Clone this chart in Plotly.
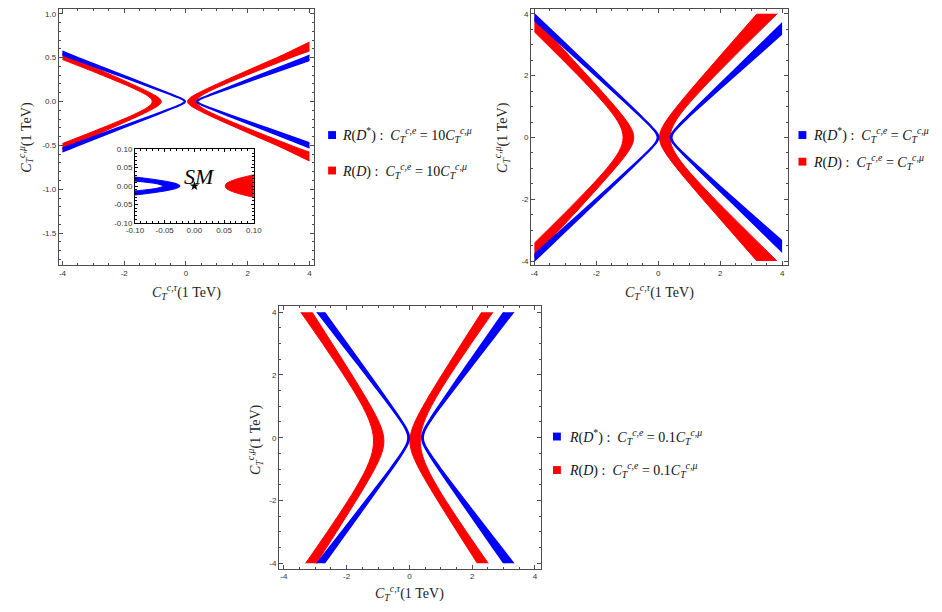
import plotly.graph_objects as go

W, H = 942, 612
BLUE = "#0000ff"
RED = "#ff0000"
FRAME = "#4d4d4d"
SERIF = "Liberation Serif, DejaVu Serif, serif"
TICKFONT = dict(family="Liberation Sans, Arial, sans-serif", size=8, color="#333333")

# ---------------------------------------------------------------------------
# Allowed bands in the (C_T^{c,tau}, C_T^{c,mu}) plane.
# Each band edge is given as x positions at the listed |y| levels
# ("in" = edge nearer the centre of the pair, "out" = edge farther away).
# ---------------------------------------------------------------------------

# Panel 1 : C_T^{c,e} = 10 C_T^{c,mu}   (symmetric in y)
P1_Y = [0, 0.012, 0.025, 0.045, 0.08, 0.15, 0.3, 0.5, 0.8]
P1_DSTAR_LEFT_IN = [-0.024, -0.044, -0.099, -0.215, -0.451, -0.949, -2.037, -3.496, -5.686]
P1_DSTAR_LEFT_OUT = [-0.053, -0.073, -0.129, -0.251, -0.501, -1.033, -2.200, -3.764, -6.115]
P1_DSTAR_RIGHT_IN = [0.350, 0.370, 0.425, 0.541, 0.777, 1.275, 2.363, 3.822, 6.012]
P1_DSTAR_RIGHT_OUT = [0.379, 0.400, 0.460, 0.588, 0.849, 1.402, 2.614, 4.237, 6.676]
P1_D_LEFT_IN = [-0.801, -0.808, -0.832, -0.894, -1.052, -1.449, -2.392, -3.689, -5.650]
P1_D_LEFT_OUT = [-1.096, -1.102, -1.120, -1.170, -1.309, -1.701, -2.714, -4.153, -6.352]
P1_D_RIGHT_IN = [0.051, 0.058, 0.082, 0.144, 0.302, 0.699, 1.642, 2.939, 4.900]
P1_D_RIGHT_OUT = [0.346, 0.352, 0.370, 0.420, 0.559, 0.951, 1.964, 3.403, 5.602]

# Inset of panel 1 (zoom around the SM point)
INSET_Y = [0, 0.005, 0.01, 0.015, 0.02, 0.025, 0.03, 0.05]
INSET_DSTAR_IN = [-0.024, -0.028, -0.039, -0.056, -0.077, -0.103, -0.131, -0.258]
INSET_DSTAR_OUT = [-0.053, -0.060, -0.080, -0.110, -0.147, -0.189, -0.235, -0.434]
INSET_D_IN = [0.052, 0.053, 0.057, 0.064, 0.073, 0.085, 0.099, 0.172]
INSET_D_OUT = [0.330, 0.330, 0.330, 0.340, 0.340, 0.340, 0.350, 0.360]
SM_POINT = (0.0, 0.0)

# Panel 2 : C_T^{c,e} = C_T^{c,mu}   (symmetric in y)
P2_Y = [0, 0.1, 0.2, 0.35, 0.6, 1.0, 1.6, 2.5, 3.5, 4.5, 6.0]
P2_DSTAR_LEFT_IN = [0.020, -0.008, -0.075, -0.207, -0.452, -0.861, -1.486, -2.427, -3.476, -4.525, -6.099]
P2_DSTAR_LEFT_OUT = [-0.030, -0.055, -0.118, -0.249, -0.501, -0.930, -1.587, -2.581, -3.688, -4.797, -6.462]
P2_DSTAR_RIGHT_IN = [0.390, 0.416, 0.481, 0.608, 0.847, 1.246, 1.854, 2.772, 3.794, 4.818, 6.353]
P2_DSTAR_RIGHT_OUT = [0.440, 0.466, 0.531, 0.665, 0.923, 1.360, 2.029, 3.041, 4.169, 5.298, 6.992]
P2_D_LEFT_IN = [-0.790, -0.800, -0.830, -0.902, -1.071, -1.394, -1.921, -2.738, -3.658, -4.583, -5.974]
P2_D_LEFT_OUT = [-1.135, -1.142, -1.163, -1.217, -1.357, -1.660, -2.199, -3.075, -4.081, -5.100, -6.639]
P2_D_RIGHT_IN = [0.040, 0.049, 0.076, 0.143, 0.299, 0.602, 1.100, 1.876, 2.750, 3.629, 4.950]
P2_D_RIGHT_OUT = [0.385, 0.392, 0.413, 0.467, 0.607, 0.910, 1.449, 2.325, 3.331, 4.350, 5.889]

# Panel 3 : C_T^{c,e} = 0.1 C_T^{c,mu}   (R(D) band slightly shifted in y: upper / lower halves)
P3_Y = [0, 0.1, 0.2, 0.35, 0.6, 1.0, 1.6, 2.5, 3.5, 4.5, 6.0]
P3_DSTAR_LEFT_IN = [0.000, -0.013, -0.048, -0.125, -0.281, -0.555, -0.981, -1.627, -2.349, -3.071, -4.157]
P3_DSTAR_LEFT_OUT = [-0.050, -0.062, -0.096, -0.173, -0.335, -0.625, -1.081, -1.777, -2.555, -3.335, -4.507]
P3_DSTAR_RIGHT_IN = [0.390, 0.402, 0.435, 0.508, 0.658, 0.922, 1.333, 1.958, 2.655, 3.354, 4.404]
P3_DSTAR_RIGHT_OUT = [0.440, 0.452, 0.485, 0.562, 0.723, 1.012, 1.465, 2.158, 2.932, 3.708, 4.875]
P3_D_LEFT_IN_UP = [-0.821, -0.837, -0.861, -0.911, -1.020, -1.232, -1.586, -2.146, -2.783, -3.425, -4.393]
P3_D_LEFT_IN_DN = [-0.821, -0.815, -0.819, -0.843, -0.923, -1.112, -1.454, -2.008, -2.642, -3.283, -4.251]
P3_D_LEFT_OUT_UP = [-1.149, -1.160, -1.178, -1.216, -1.305, -1.495, -1.844, -2.429, -3.115, -3.816, -4.881]
P3_D_LEFT_OUT_DN = [-1.149, -1.145, -1.148, -1.165, -1.225, -1.385, -1.710, -2.282, -2.962, -3.661, -4.724]
P3_D_RIGHT_IN_UP = [0.021, 0.037, 0.061, 0.111, 0.220, 0.432, 0.786, 1.346, 1.983, 2.625, 3.593]
P3_D_RIGHT_IN_DN = [0.021, 0.015, 0.019, 0.043, 0.123, 0.312, 0.654, 1.208, 1.842, 2.483, 3.451]
P3_D_RIGHT_OUT_UP = [0.349, 0.360, 0.378, 0.416, 0.505, 0.695, 1.044, 1.629, 2.315, 3.016, 4.081]
P3_D_RIGHT_OUT_DN = [0.349, 0.345, 0.348, 0.365, 0.425, 0.585, 0.910, 1.482, 2.162, 2.861, 3.924]

# Tick labels
P1_XTICKS = [-4, -2, 0, 2, 4]
P1_YTICKS = [-1.5, -1.0, -0.5, 0.0, 0.5, 1.0]
P1_YTICKTEXT = ["-1.5", "-1.0", "-0.5", "0.0", "0.5", "1.0"]
P23_TICKS = [-4, -2, 0, 2, 4]
P23_TICKTEXT = ["-4", "-2", "0", "2", "4"]
INSET_TICKS = [-0.10, -0.05, 0.0, 0.05, 0.10]
INSET_TICKTEXT = ["-0.10", "-0.05", "0.00", "0.05", "0.10"]

# coefficient relating C_T^{c,e} to C_T^{c,mu} in each panel's legend
LEGEND_COEF = {"p1": "10", "p2": "", "p3": "0.1"}

# ---------------------------------------------------------------------------
# geometry helpers
# ---------------------------------------------------------------------------

def fx(p):
    return p / W


def fy(p):
    return 1 - p / H


def sub_domain(dom, rng, lo, hi):
    span = rng[1] - rng[0]
    d = dom[1] - dom[0]
    return [dom[0] + (lo - rng[0]) / span * d, dom[0] + (hi - rng[0]) / span * d]


def band_polygon(levels, in_up, out_up, in_dn=None, out_dn=None):
    in_dn = in_up if in_dn is None else in_dn
    out_dn = out_up if out_dn is None else out_dn
    ys = [-v for v in levels[:0:-1]] + list(levels)
    xin = list(in_dn[:0:-1]) + list(in_up)
    xout = list(out_dn[:0:-1]) + list(out_up)
    return xin + xout[::-1] + [xin[0]], ys + ys[::-1] + [ys[0]]


def band_trace(poly, color, xa, ya, width=1.0):
    xs, ys = poly
    return go.Scatter(
        x=xs, y=ys, mode="lines", fill="toself", fillcolor=color,
        line=dict(color=color, width=width, shape="spline", smoothing=1),
        xaxis=xa, yaxis=ya, hoverinfo="skip", showlegend=False,
    )


def empty_trace(xa, ya):
    # registers a subplot so that its frame and ticks are drawn
    return go.Scatter(x=[], y=[], mode="markers", xaxis=xa, yaxis=ya,
                      hoverinfo="skip", showlegend=False)


# frames (pixel boxes) and data ranges of the panels
P1_DX, P1_DY = [fx(50.7), fx(311.0)], [fy(265.0), fy(5.0)]
P2_DX, P2_DY = [fx(531.7), fx(793.3)], [fy(265.0), fy(5.0)]
P3_DX, P3_DY = [fx(275.0), fx(541.7)], [fy(573.3), fy(306.7)]
IN_DX, IN_DY = [fx(128.3), fx(249.3)], [fy(222.0), fy(147.5)]
P1_XR, P1_YR = [-4.12, 4.16], [-1.865, 1.056]
P2_XR, P2_YR = [-4.105, 4.19], [-4.13, 4.16]
P3_XR, P3_YR = [-4.156, 4.19], [-4.18, 4.19]
IN_R = [-0.1, 0.1]


def frame_axis(domain, rng, anchor, tickvals, ticktext, color=FRAME, ticklen=4):
    return dict(
        domain=domain, range=rng, anchor=anchor, showline=True, linecolor=color,
        linewidth=1, mirror="ticks", ticks="inside", ticklen=ticklen,
        tickcolor=color, tickwidth=1, tickmode="array", tickvals=tickvals,
        ticktext=ticktext, tickfont=TICKFONT, showgrid=False, zeroline=False,
        fixedrange=True,
    )


def minor_axis(domain, rng, anchor, dtick, color=FRAME, ticklen=2):
    return dict(
        domain=domain, range=rng, anchor=anchor, showline=True, linecolor=color,
        linewidth=1, mirror="ticks", ticks="inside", ticklen=ticklen,
        tickcolor=color, tickwidth=1, tickmode="linear", tick0=0, dtick=dtick,
        showticklabels=False, showgrid=False, zeroline=False, fixedrange=True,
    )


def clip_axis(domain, anchor):
    return dict(domain=domain, range=[-4, 4], anchor=anchor, visible=False,
                showgrid=False, zeroline=False, fixedrange=True)


fig = go.Figure()

# frame / minor-tick subplots
for xa, ya in [("x", "y"), ("x2", "y2"), ("x3", "y3"),
               ("x8", "y8"), ("x9", "y9"), ("x10", "y10"), ("x11", "y11")]:
    fig.add_trace(empty_trace(xa, ya))

# ---- panel 1 (clip box x in [-4, 4]) ----
for pairs, color, wid in [
    ([(P1_D_LEFT_IN, P1_D_LEFT_OUT), (P1_D_RIGHT_IN, P1_D_RIGHT_OUT)], RED, 1.0),
    ([(P1_DSTAR_LEFT_IN, P1_DSTAR_LEFT_OUT), (P1_DSTAR_RIGHT_IN, P1_DSTAR_RIGHT_OUT)], BLUE, 1.6),
]:
    for a, b in pairs:
        fig.add_trace(band_trace(band_polygon(P1_Y, a, b), color, "x5", "y5", wid))

# ---- panel 2 (clip box [-4, 4]^2) ----
for pairs, color, wid in [
    ([(P2_D_LEFT_IN, P2_D_LEFT_OUT), (P2_D_RIGHT_IN, P2_D_RIGHT_OUT)], RED, 1.0),
    ([(P2_DSTAR_LEFT_IN, P2_DSTAR_LEFT_OUT), (P2_DSTAR_RIGHT_IN, P2_DSTAR_RIGHT_OUT)], BLUE, 1.4),
]:
    for a, b in pairs:
        fig.add_trace(band_trace(band_polygon(P2_Y, a, b), color, "x6", "y6", wid))

# ---- panel 3 ----
fig.add_trace(band_trace(band_polygon(P3_Y, P3_D_LEFT_IN_UP, P3_D_LEFT_OUT_UP,
                                      P3_D_LEFT_IN_DN, P3_D_LEFT_OUT_DN), RED, "x7", "y7"))
fig.add_trace(band_trace(band_polygon(P3_Y, P3_D_RIGHT_IN_UP, P3_D_RIGHT_OUT_UP,
                                      P3_D_RIGHT_IN_DN, P3_D_RIGHT_OUT_DN), RED, "x7", "y7"))
fig.add_trace(band_trace(band_polygon(P3_Y, P3_DSTAR_LEFT_IN, P3_DSTAR_LEFT_OUT), BLUE, "x7", "y7", 1.4))
fig.add_trace(band_trace(band_polygon(P3_Y, P3_DSTAR_RIGHT_IN, P3_DSTAR_RIGHT_OUT), BLUE, "x7", "y7", 1.4))

# ---- inset ----
fig.add_trace(band_trace(band_polygon(INSET_Y, INSET_D_IN, INSET_D_OUT), RED, "x4", "y4"))
fig.add_trace(band_trace(band_polygon(INSET_Y, INSET_DSTAR_IN, INSET_DSTAR_OUT), BLUE, "x4", "y4"))
fig.add_trace(go.Scatter(x=[SM_POINT[0]], y=[SM_POINT[1]], mode="markers",
                         marker=dict(symbol="star", size=7, color="black"),
                         xaxis="x4", yaxis="y4", hoverinfo="skip", showlegend=False,
                         cliponaxis=False))

layout_axes = dict(
    # framed axes with major ticks and labels
    xaxis=frame_axis(P1_DX, P1_XR, "y", P1_XTICKS, P23_TICKTEXT),
    yaxis=frame_axis(P1_DY, P1_YR, "x", P1_YTICKS, P1_YTICKTEXT),
    xaxis2=frame_axis(P2_DX, P2_XR, "y2", P23_TICKS, P23_TICKTEXT),
    yaxis2=frame_axis(P2_DY, P2_YR, "x2", P23_TICKS, P23_TICKTEXT),
    xaxis3=frame_axis(P3_DX, P3_XR, "y3", P23_TICKS, P23_TICKTEXT),
    yaxis3=frame_axis(P3_DY, P3_YR, "x3", P23_TICKS, P23_TICKTEXT),
    xaxis4=frame_axis(IN_DX, IN_R, "y4", INSET_TICKS, INSET_TICKTEXT, color="black", ticklen=3),
    yaxis4=frame_axis(IN_DY, IN_R, "x4", INSET_TICKS, INSET_TICKTEXT, color="black", ticklen=3),
    # clipping boxes for the bands
    xaxis5=clip_axis(sub_domain(P1_DX, P1_XR, -4, 4), "y5"),
    yaxis5=dict(domain=P1_DY, range=P1_YR, anchor="x5", visible=False,
                showgrid=False, zeroline=False, fixedrange=True),
    xaxis6=clip_axis(sub_domain(P2_DX, P2_XR, -4, 4), "y6"),
    yaxis6=clip_axis(sub_domain(P2_DY, P2_YR, -4, 4), "x6"),
    xaxis7=clip_axis(sub_domain(P3_DX, P3_XR, -4, 4), "y7"),
    yaxis7=clip_axis(sub_domain(P3_DY, P3_YR, -4, 4), "x7"),
    # minor ticks
    xaxis8=minor_axis(P1_DX, P1_XR, "y8", 0.5),
    yaxis8=minor_axis(P1_DY, P1_YR, "x8", 0.1),
    xaxis9=minor_axis(P2_DX, P2_XR, "y9", 0.5),
    yaxis9=minor_axis(P2_DY, P2_YR, "x9", 0.5),
    xaxis10=minor_axis(P3_DX, P3_XR, "y10", 0.5),
    yaxis10=minor_axis(P3_DY, P3_YR, "x10", 0.5),
    xaxis11=minor_axis(IN_DX, IN_R, "y11", 0.01, color="black", ticklen=1.8),
    yaxis11=minor_axis(IN_DY, IN_R, "x11", 0.01, color="black", ticklen=1.8),
)

# ---- texts ----
def ct(sup):
    return "<i>C</i><sub><i>T</i></sub><sup><i>c</i>,<i>%s</i></sup>" % sup


XTITLE = ct("τ") + "(1 TeV)"
YTITLE = ct("μ") + "(1 TeV)"
TITLE_FONT = dict(family=SERIF, size=14, color="#222222")
LEG_FONT = dict(family=SERIF, size=14, color="#111111")

annotations = []
for cx, cy in [(180.5, 292), (662, 292), (408, 598)]:
    annotations.append(dict(x=fx(cx), y=fy(cy), xref="paper", yref="paper", text=XTITLE,
                            showarrow=False, font=TITLE_FONT, xanchor="center", yanchor="middle"))
for cx, cy in [(17, 135), (502, 135), (250, 442)]:
    annotations.append(dict(x=fx(cx), y=fy(cy), xref="paper", yref="paper", text=YTITLE,
                            showarrow=False, font=TITLE_FONT, textangle=-90,
                            xanchor="center", yanchor="middle"))

annotations.append(dict(x=0.008, y=0.026, xref="x4", yref="y4", text="<i>SM</i>",
                        showarrow=False, font=dict(family=SERIF, size=22, color="black"),
                        xanchor="center", yanchor="middle"))

shapes = []
LEGENDS = [
    ("p1", 329, 337, 133, 169),
    ("p2", 808, 817, 133, 160),
    ("p3", 558, 568, 439, 473),
]
for key, sqx, tx, yb, yr in LEGENDS:
    coef = LEGEND_COEF[key]
    rows = [
        (yb, BLUE, "<i>R</i>(<i>D</i><sup>*</sup>) :  " + ct("e") + " = " + coef + ct("μ")),
        (yr, RED, "<i>R</i>(<i>D</i>) :  " + ct("e") + " = " + coef + ct("μ")),
    ]
    for yy, col, txt in rows:
        shapes.append(dict(type="rect", xref="paper", yref="paper",
                           x0=fx(sqx - 4), x1=fx(sqx + 4), y0=fy(yy + 4), y1=fy(yy - 4),
                           fillcolor=col, line=dict(width=0)))
        annotations.append(dict(x=fx(tx), y=fy(yy), xref="paper", yref="paper", text=txt,
                                showarrow=False, font=LEG_FONT, xanchor="left", yanchor="middle"))

fig.update_layout(
    width=W, height=H, autosize=False,
    margin=dict(l=0, r=0, t=0, b=0),
    paper_bgcolor="white", plot_bgcolor="rgba(0,0,0,0)",
    showlegend=False,
    annotations=annotations, shapes=shapes,
    **layout_axes,
)

fig.write_html("out.html")
